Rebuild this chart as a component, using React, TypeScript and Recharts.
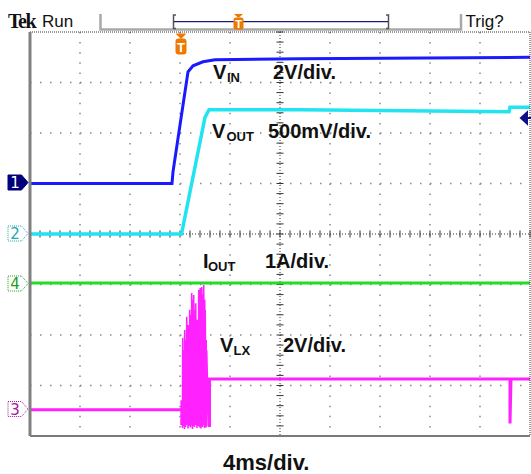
import React from 'react';
import { LineChart, Line, XAxis, YAxis, ReferenceLine } from 'recharts';

// screen is 10 x 8 divisions; t in time divisions, v in divisions from centre
const majorX = [1, 2, 3, 4, 6, 7, 8, 9];
const majorY = [-3, -2, -1, 1, 2, 3];
const minorX = Array.from({ length: 51 }, (_, i) => i / 5);
const minorY = Array.from({ length: 41 }, (_, i) => -4 + i / 5);

const vinTrace = [
  { t: 0, v: 1.0 }, { t: 2.84, v: 1.0 }, { t: 2.86, v: 1.23 }, { t: 3.0, v: 2.16 },
  { t: 3.16, v: 3.21 }, { t: 3.26, v: 3.33 }, { t: 3.46, v: 3.41 }, { t: 3.7, v: 3.45 },
  { t: 5.4, v: 3.47 }, { t: 10, v: 3.5 },
];
const voutTrace = [
  { t: 0, v: 0 }, { t: 3.03, v: 0 }, { t: 3.5, v: 2.31 }, { t: 3.58, v: 2.46 },
  { t: 5.4, v: 2.46 }, { t: 9.58, v: 2.42 }, { t: 9.6, v: 2.51 }, { t: 10, v: 2.51 },
];
const ioutTrace = [{ t: 0, v: -0.97 }, { t: 10, v: -0.97 }];
const vlxBefore = [{ t: 0, v: -3.48 }, { t: 3.02, v: -3.48 }];
const vlxAfter = [
  { t: 3.59, v: -3.82 }, { t: 3.59, v: -2.87 }, { t: 9.6, v: -2.87 },
  { t: 9.6, v: -3.75 }, { t: 9.62, v: -2.87 }, { t: 10, v: -2.87 },
];
// switching burst at start-up
const lxBurstTime = [3.02, 3.05, 3.07, 3.09, 3.11, 3.13, 3.16, 3.19, 3.21, 3.23, 3.25, 3.27, 3.29, 3.31, 3.34, 3.37, 3.39, 3.4, 3.42, 3.43, 3.45, 3.47, 3.49, 3.5, 3.52, 3.53, 3.57];
const lxBurstPeak = [-3.29, -2.06, -2.3, -1.9, -2.1, -1.64, -1.8, -1.5, -1.6, -1.17, -1.3, -1.21, -1.5, -1.37, -1.7, -1.11, -1.23, -1.07, -1.3, -1.05, -1.2, -1.01, -1.3, -1.5, -2.1, -2.3, -3.0];
const lxBurstLow = [-3.78, -3.84, -3.8, -3.86, -3.82, -3.78, -3.85, -3.8, -3.83, -3.79, -3.86, -3.8, -3.82, -3.78, -3.84, -3.8, -3.83, -3.79, -3.85, -3.8, -3.82, -3.78, -3.84, -3.8, -3.83, -3.8, -3.82];

const burstData = lxBurstTime.flatMap((t, i) => [
  { t, v: lxBurstLow[i] },
  { t: t + 0.004, v: lxBurstPeak[i] },
]);

const label = { fontFamily: 'Liberation Sans, Arial, sans-serif', fontWeight: 700, fill: '#111' } as const;
const ui = { fontFamily: 'Liberation Sans, Arial, sans-serif', fill: '#111' } as const;

const Marker = ({ y, n, color, filled }: { y: number; n: string; color: string; filled?: boolean }) => (
  <g>
    <path
      d={`M8 ${y - 7.5} H21.5 L28 ${y} L21.5 ${y + 7.5} H8 Z`}
      fill={filled ? '#00007a' : '#fff'}
      stroke={filled ? '#00007a' : color}
      strokeWidth={1}
      strokeDasharray={filled ? undefined : '1 1'}
    />
    <text x={15} y={y + 5.5} textAnchor="middle" fontSize={15} fontFamily="DejaVu Sans, sans-serif" fill={filled ? '#fff' : color}>
      {n}
    </text>
  </g>
);

const axisCommon = {
  type: 'number' as const,
  domain: [0, 10],
  allowDataOverflow: true,
  ticks: minorX,
  interval: 0 as const,
  tick: false,
  tickSize: 3,
  mirror: true,
};

export default function App() {
  return (
    <div style={{ position: 'absolute', left: 0, top: 0, width: 531, height: 474, background: '#fff', overflow: 'hidden' }}>
      <LineChart width={531} height={474} margin={{ top: 32, right: 1, bottom: 38, left: 30 }}>
        <XAxis {...axisCommon} xAxisId="b" dataKey="t" orientation="bottom"
          axisLine={{ stroke: '#7a7a7a', strokeWidth: 2 }} tickLine={{ stroke: '#222' }} />
        <XAxis {...axisCommon} xAxisId="t" dataKey="t" orientation="top"
          axisLine={{ stroke: '#333', strokeDasharray: '1 1' }} tickLine={{ stroke: '#222' }} />
        <YAxis type="number" yAxisId="l" domain={[-4, 4]} allowDataOverflow ticks={minorY} interval={0}
          tick={false} tickSize={3} mirror orientation="left"
          axisLine={{ stroke: '#808080', strokeWidth: 3 }} tickLine={{ stroke: '#222' }} />
        <YAxis type="number" yAxisId="r" domain={[-4, 4]} allowDataOverflow ticks={minorY} interval={0}
          tick={false} tickSize={3} mirror orientation="right"
          axisLine={{ stroke: '#333', strokeDasharray: '1 1' }} tickLine={{ stroke: '#222' }} />

        {majorX.map((d) => (
          <ReferenceLine key={`gx${d}`} xAxisId="b" yAxisId="l" segment={[{ x: d, y: 4 }, { x: d, y: -4 }]}
            stroke="#8a8a8a" strokeWidth={1.5} strokeDasharray="1.5 8.6" />
        ))}
        {majorY.map((d) => (
          <ReferenceLine key={`gy${d}`} xAxisId="b" yAxisId="l" segment={[{ x: 0, y: d }, { x: 10, y: d }]}
            stroke="#8a8a8a" strokeWidth={1.5} strokeDasharray="1.5 8.5" />
        ))}
        <ReferenceLine xAxisId="b" yAxisId="l" segment={[{ x: 5, y: 4 }, { x: 5, y: -4 }]} stroke="#333" strokeDasharray="1 2" />
        <ReferenceLine xAxisId="b" yAxisId="l" segment={[{ x: 0, y: 0 }, { x: 10, y: 0 }]} stroke="#333" strokeDasharray="1 2" />
        {minorY.map((d) => (
          <ReferenceLine key={`cy${d}`} xAxisId="b" yAxisId="l" segment={[{ x: 4.93, y: d }, { x: 5.07, y: d }]} stroke="#333" />
        ))}
        {minorX.map((d) => (
          <ReferenceLine key={`cx${d}`} xAxisId="b" yAxisId="l" segment={[{ x: d, y: -0.07 }, { x: d, y: 0.07 }]} stroke="#333" />
        ))}

        <Line xAxisId="b" yAxisId="l" data={vlxBefore} dataKey="v" stroke="#ff22ff" strokeWidth={3} dot={false} activeDot={false} isAnimationActive={false} />
        <Line xAxisId="b" yAxisId="l" data={burstData} dataKey="v" stroke="#ff22ff" strokeWidth={1.6} dot={false} activeDot={false} isAnimationActive={false} />
        <Line xAxisId="b" yAxisId="l" data={vlxAfter} dataKey="v" stroke="#ff22ff" strokeWidth={3} dot={false} activeDot={false} isAnimationActive={false} />
        <Line xAxisId="b" yAxisId="l" data={ioutTrace} dataKey="v" stroke="#22dd22" strokeWidth={3} dot={false} activeDot={false} isAnimationActive={false} />
        <Line xAxisId="b" yAxisId="l" data={voutTrace} dataKey="v" stroke="#22e4f0" strokeWidth={3.5} dot={false} activeDot={false} isAnimationActive={false} />
        <Line xAxisId="b" yAxisId="l" data={vinTrace} dataKey="v" stroke="#1a1aff" strokeWidth={3} dot={false} activeDot={false} isAnimationActive={false} />
      </LineChart>

      <svg width={531} height={474} style={{ position: 'absolute', left: 0, top: 0, pointerEvents: 'none' }}>
        {/* top status bar */}
        <text x={8} y={28} fontFamily="Liberation Serif, Times New Roman, serif" fontWeight={700} fontSize={20} letterSpacing={-1.5} fill="#111">Tek</text>
        <text x={42} y={27} fontSize={17} {...ui}>Run</text>
        <path d="M100.5 14 V29.5 H461 V14" fill="none" stroke="#a8a8a8" strokeWidth={2.5} />
        <path d="M176 15 H173.5 V28.5 H176 M386 15 H388.5 V28.5 H386" fill="none" stroke="#555" strokeWidth={1.5} />
        <line x1={174} y1={21.7} x2={388} y2={21.7} stroke="#1c1c7c" strokeWidth={1.2} />
        <path d="M234 14 H243 L238.5 18 Z" fill="#f07800" />
        <rect x={233.5} y={17.5} width={10} height={12} rx={2.5} fill="#f07800" />
        <text x={238.5} y={27.5} textAnchor="middle" fontSize={11} {...label} fill="#fff">T</text>
        <text x={465.5} y={27} fontSize={17} {...ui}>Trig?</text>

        {/* trigger position marker */}
        <path d="M175.5 33.5 H186.5 L181 39 Z" fill="#f07800" />
        <rect x={175.5} y={38.5} width={11} height={16} rx={3} fill="#f07800" />
        <text x={181} y={51.5} textAnchor="middle" fontSize={13} {...label} fill="#fff">T</text>

        {/* channel markers */}
        <Marker y={182.5} n="1" color="#00007a" filled />
        <Marker y={233.5} n="2" color="#20a8b0" />
        <Marker y={283.5} n="4" color="#20a020" />
        <Marker y={409} n="3" color="#a020a0" />
        <path d="M521 118 L527 112.5 L527 123.5 Z M526 118 H531" fill="#10108a" stroke="#10108a" strokeWidth={2} />

        {/* trace labels */}
        <text x={213} y={79} fontSize={20} {...label}>V</text>
        <text x={227} y={82} fontSize={13} {...label}>IN</text>
        <text x={273} y={79} fontSize={20} {...label}>2V/div.</text>
        <text x={212} y={138} fontSize={20} {...label}>V</text>
        <text x={226.5} y={141} fontSize={13} {...label}>OUT</text>
        <text x={268} y={138} fontSize={20} {...label}>500mV/div.</text>
        <text x={203} y={268} fontSize={20} {...label}>I</text>
        <text x={208} y={271} fontSize={13} {...label}>OUT</text>
        <text x={265} y={268} fontSize={20} {...label}>1A/div.</text>
        <text x={220} y={352} fontSize={20} {...label}>V</text>
        <text x={233.5} y={355} fontSize={13} {...label}>LX</text>
        <text x={283} y={352} fontSize={20} {...label}>2V/div.</text>
        <text x={223} y={470} fontSize={22} {...label}>4ms/div.</text>
      </svg>
    </div>
  );
}
